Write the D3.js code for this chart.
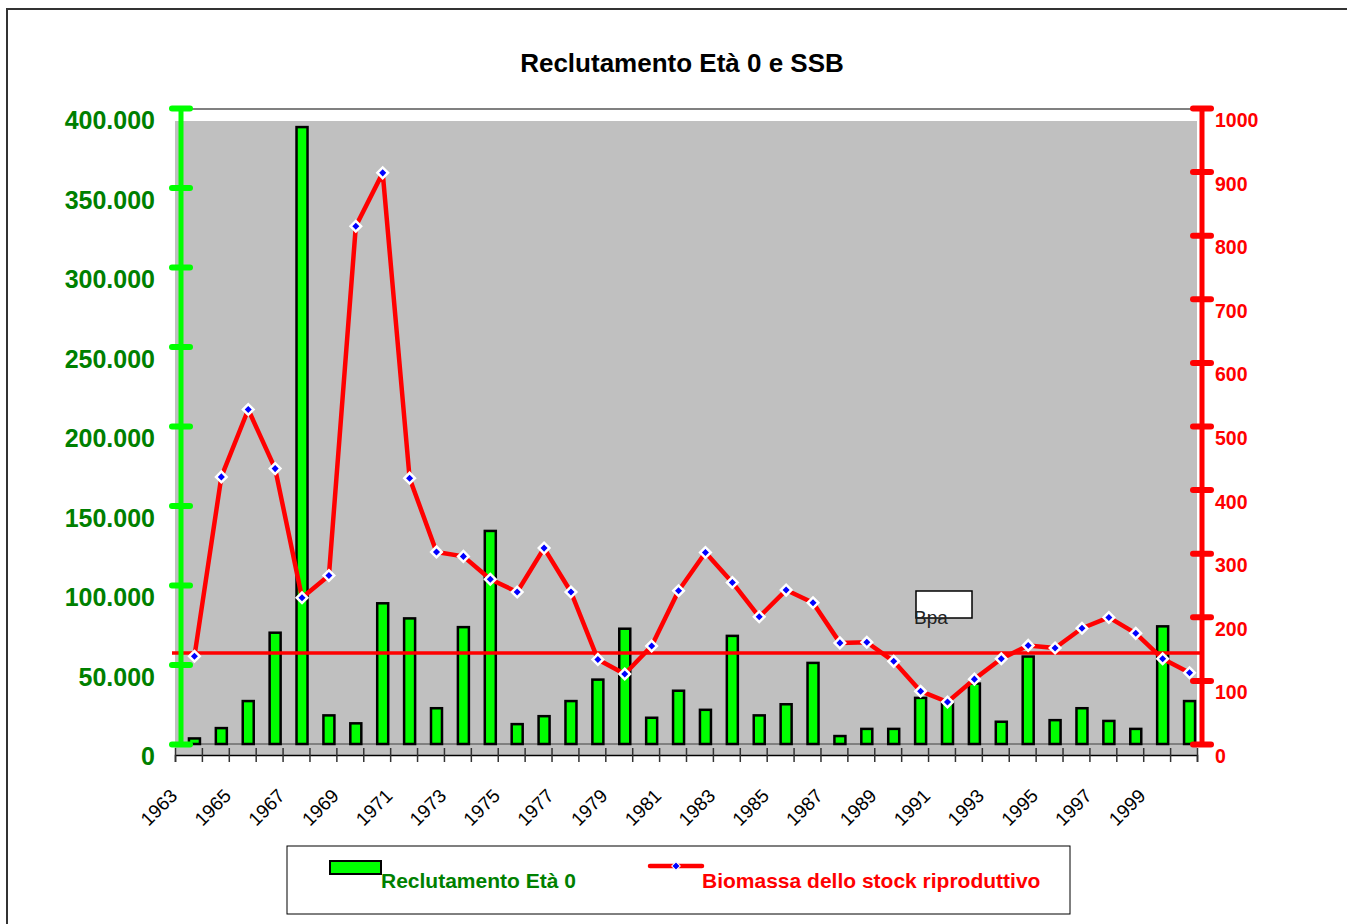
<!DOCTYPE html>
<html>
<head>
<meta charset="utf-8">
<script src="https://cdn.jsdelivr.net/npm/d3@7"></script>
<style>
  body { margin: 0; background: #fff; }
  svg { display: block; font-family: "Liberation Sans", Arial, sans-serif; }
</style>
</head>
<body>
<svg id="chart" width="1347" height="924"></svg>
<script>
// data
var years = [1963, 1964, 1965, 1966, 1967, 1968, 1969, 1970, 1971, 1972,
	1973, 1974, 1975, 1976, 1977, 1978, 1979, 1980, 1981, 1982,
	1983, 1984, 1985, 1986, 1987, 1988, 1989, 1990, 1991, 1992,
	1993, 1994, 1995, 1996, 1997, 1998, 1999, 2000];
var recruits = [3500, 10000, 27000, 70000, 388000, 18000, 13000, 88500, 79000, 22500,
	73500, 134000, 12500, 17500, 27000, 40500, 72500, 16500, 33500, 21500,
	68000, 18000, 25000, 51000, 5000, 9500, 9500, 29000, 26000, 38000,
	14000, 55000, 15000, 22500, 14500, 9500, 74000, 27000];
var ssb = [138, 420, 526, 433, 230, 265, 814, 898, 418, 302,
	295, 259, 239, 308, 239, 133, 110, 154, 241, 301,
	254, 200, 242, 222, 159, 160, 130, 83, 66, 102,
	134, 155, 151, 182, 199, 174, 134, 112];
var bpa = 143;
var leftTicks = [0, 50000, 100000, 150000, 200000, 250000, 300000, 350000, 400000];
var rightTicks = [0, 100, 200, 300, 400, 500, 600, 700, 800, 900, 1000];

var svg = d3.select('#chart');

// outer frame
svg.append('rect')
	.attr('x', 7).attr('y', 9)
	.attr('width', 1400).attr('height', 1000)
	.style('fill', 'none')
	.style('stroke', '#333')
	.style('stroke-width', 2);

svg.append('text')
	.attr('x', 682).attr('y', 72)
	.attr('text-anchor', 'middle')
	.style('font-size', '26px')
	.style('font-weight', 'bold')
	.text('Reclutamento Età 0 e SSB');

var x = d3.scaleBand().domain(years).range([181, 1203]);
var yL = d3.scaleLinear().domain([0, 400000]).range([744, 108]);
var yR = d3.scaleLinear().domain([0, 1000]).range([744, 108]);
// the plot area and x axis sit a bit off the value frame, as in the original
var off = {dx: -6, dy: 11};
var xb = d3.scaleLinear().domain([0, years.length]).range([181 + off.dx, 1203 + off.dx]);

svg.append('rect')
	.attr('x', 181 + off.dx)
	.attr('y', yL(400000) + 13)
	.attr('width', 1022)
	.attr('height', yL(0) + off.dy - yL(400000) - 13)
	.style('fill', '#c0c0c0');

svg.append('line')
	.attr('x1', 181).attr('x2', 1203)
	.attr('y1', yL(400000) + 1).attr('y2', yL(400000) + 1)
	.style('stroke', '#808080').style('stroke-width', 2);

svg.append('line')
	.attr('x1', 181 + off.dx).attr('x2', 1203 + off.dx)
	.attr('y1', yL(0)).attr('y2', yL(0))
	.style('stroke', '#808080').style('stroke-width', 2);

// x axis
var xAxis = d3.axisBottom(xb)
	.tickValues(d3.range(0, years.length + 1))
	.tickSize(7)
	.tickFormat(function(i) { return (i % 2 == 0 && i < years.length) ? years[i] : ''; });
var gx = svg.append('g')
	.attr('transform', 'translate(0,' + (yL(0) + off.dy) + ')')
	.call(xAxis);
gx.select('.domain').style('stroke', '#000').style('stroke-width', 1.5);
gx.selectAll('.tick line').attr('y1', -7).attr('y2', 7).style('stroke', '#333').style('stroke-width', 1.5);
gx.selectAll('.tick text')
	.attr('y', 0).attr('dy', 0)
	.attr('transform', 'translate(3,42) rotate(-45)')
	.attr('text-anchor', 'end')
	.style('font-size', '19px')
	.style('font-family', '"Liberation Sans", Arial, sans-serif')
	.style('fill', '#000');

// bars
svg.append('g').selectAll('rect')
	.data(years)
	.enter().append('rect')
	.attr('x', function(d) { return x(d) + x.bandwidth()/2 - 5.5; })
	.attr('y', function(d, i) { return yL(recruits[i]); })
	.attr('width', 11)
	.attr('height', function(d, i) { return yL(0) - yL(recruits[i]); })
	.style('fill', '#00ff00')
	.style('stroke', '#000')
	.style('stroke-width', 2.5);

// Bpa reference
svg.append('line')
	.attr('x1', 172).attr('x2', 1203)
	.attr('y1', yR(bpa)).attr('y2', yR(bpa))
	.style('stroke', '#ff0000').style('stroke-width', 3.5);

svg.append('rect')
	.attr('x', 916).attr('y', 591)
	.attr('width', 56).attr('height', 27)
	.style('fill', '#fff').style('stroke', '#000').style('stroke-width', 1.5);
svg.append('text')
	.attr('x', 914).attr('y', 624)
	.style('font-size', '19px')
	.style('fill', '#222')
	.text('Bpa');

// SSB line
var line = d3.line()
	.x(function(d) { return x(d) + x.bandwidth()/2; })
	.y(function(d, i) { return yR(ssb[i]); });
svg.append('path')
	.attr('d', line(years))
	.style('fill', 'none')
	.style('stroke', '#ff0000')
	.style('stroke-width', 4.5)
	.style('stroke-linejoin', 'round');

var diamond = d3.symbol().type(d3.symbolSquare).size(56);
svg.append('g').selectAll('path')
	.data(years)
	.enter().append('path')
	.attr('d', diamond)
	.attr('transform', function(d, i) {
		return 'translate(' + (x(d) + x.bandwidth()/2) + ',' + yR(ssb[i]) + ') rotate(45)';
	})
	.style('fill', '#0000ff')
	.style('stroke', '#fff')
	.style('stroke-width', 2.5);

// value axes: line and ticks on the value frame, labels shifted down
var itFmt = d3.formatLocale({decimal: ',', thousands: '.', grouping: [3], currency: ['', '']}).format(',');

function styleAxis(g, color) {
	g.select('.domain').remove();
	g.selectAll('.tick text').remove();
	g.selectAll('.tick line')
		.style('stroke', color)
		.style('stroke-width', 6)
		.style('stroke-linecap', 'round');
}

var gL = svg.append('g').attr('transform', 'translate(181,0)')
	.call(d3.axisLeft(yL).tickValues(leftTicks).tickSize(0));
styleAxis(gL, '#00ff00');
gL.selectAll('.tick line').attr('x1', -9).attr('x2', 9);
gL.append('line').attr('y1', yL(400000)).attr('y2', yL(0))
	.style('stroke', '#00ff00').style('stroke-width', 5);

svg.append('g').attr('transform', 'translate(0,' + 12 + ')')
	.selectAll('text').data(leftTicks).enter().append('text')
	.attr('x', 155)
	.attr('y', function(d) { return yL(d); })
	.attr('dy', '0.36em')
	.attr('text-anchor', 'end')
	.style('font-size', '25px')
	.style('font-weight', 'bold')
	.style('fill', '#008000')
	.text(function(d) { return itFmt(d); });

var gR = svg.append('g').attr('transform', 'translate(1202,0)')
	.call(d3.axisRight(yR).tickValues(rightTicks).tickSize(0));
styleAxis(gR, '#ff0000');
gR.selectAll('.tick line').attr('x1', -9).attr('x2', 9);
gR.append('line').attr('y1', yR(1000)).attr('y2', yR(0))
	.style('stroke', '#ff0000').style('stroke-width', 5);

svg.append('g').attr('transform', 'translate(0,' + 12 + ')')
	.selectAll('text').data(rightTicks).enter().append('text')
	.attr('x', 1215)
	.attr('y', function(d) { return yR(d); })
	.attr('dy', '0.36em')
	.style('font-size', '19.5px')
	.style('font-weight', 'bold')
	.style('fill', '#ff0000')
	.text(function(d) { return d; });

// legend
var lg = svg.append('g');
lg.append('rect')
	.attr('x', 287).attr('y', 846)
	.attr('width', 783).attr('height', 68)
	.style('fill', '#fff').style('stroke', '#000').style('stroke-width', 1);
lg.append('rect')
	.attr('x', 330).attr('y', 861)
	.attr('width', 51).attr('height', 13)
	.style('fill', '#00ff00').style('stroke', '#000').style('stroke-width', 2);
lg.append('text')
	.attr('x', 381).attr('y', 888)
	.style('font-size', '21px').style('font-weight', 'bold')
	.style('fill', '#008000')
	.text('Reclutamento Età 0');
lg.append('line')
	.attr('x1', 650).attr('x2', 702)
	.attr('y1', 866).attr('y2', 866)
	.style('stroke', '#ff0000').style('stroke-width', 4.5).style('stroke-linecap', 'round');
lg.append('path')
	.attr('d', d3.symbol().type(d3.symbolSquare).size(36))
	.attr('transform', 'translate(676,866) rotate(45)')
	.style('fill', '#0000ff').style('stroke', '#fff').style('stroke-width', 1);
lg.append('text')
	.attr('x', 702).attr('y', 888)
	.style('font-size', '21px').style('font-weight', 'bold')
	.style('fill', '#ff0000')
	.text('Biomassa dello stock riproduttivo');
</script>
</body>
</html>
